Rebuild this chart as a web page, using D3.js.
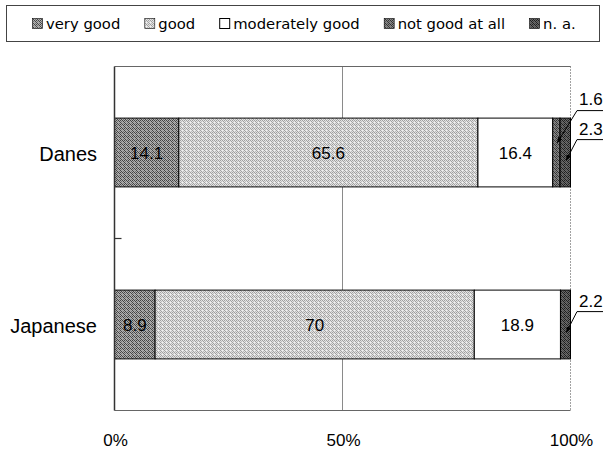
<!DOCTYPE html>
<html><head><meta charset="utf-8">
<script src="https://cdn.jsdelivr.net/npm/d3@7"></script>
<style>html,body{margin:0;padding:0;background:#fff;} svg{display:block;}</style>
</head><body><svg id="chart" width="603" height="450"></svg>
<script>
// Self-rated health, share of respondents (%)
const categories = ["Danes", "Japanese"];
const seriesNames = ["very good", "good", "moderately good", "not good at all", "n. a."];
const veryGood = [14.1, 8.9];
const good = [65.6, 70];
const moderatelyGood = [16.4, 18.9];
const notGoodAtAll = [1.6, 0];
const notAnswered = [2.3, 2.2];
const tickValues = [0, 50, 100];
const tickLabels = ["0%", "50%", "100%"];

const seriesValues = [veryGood, good, moderatelyGood, notGoodAtAll, notAnswered];
const rows = categories.map((c, i) => {
  const r = { category: c };
  seriesNames.forEach((s, k) => { r[s] = seriesValues[k][i]; });
  return r;
});

const plot = { left: 114.5, right: 570.5, top: 66.5, bottom: 410.5 };
const svg = d3.select("#chart");
const sansFont = "'Liberation Sans', Arial, sans-serif";
const legendFont = "'DejaVu Sans', sans-serif";

// Halftone-like fill patterns
const defs = svg.append("defs");
const patternSpecs = [
  { id: "p0", a: "#444444", b: "#b0b0b0", c: "#707070", d: "#9a9a9a" },
  { id: "p1", a: "#a0a0a0", b: "#e4e4e4", c: "#bcbcbc", d: "#f0f0f0" },
  null,
  { id: "p3", a: "#333333", b: "#888888", c: "#555555", d: "#777777" },
  { id: "p4", a: "#1e1e1e", b: "#6a6a6a", c: "#404040", d: "#585858" }
];
patternSpecs.forEach(p => {
  if (!p) return;
  const pat = defs.append("pattern").attr("id", p.id)
    .attr("patternUnits", "userSpaceOnUse").attr("width", 4).attr("height", 4);
  const cells = [
    [p.a, p.b, p.a, p.b],
    [p.b, p.c, p.b, p.a],
    [p.a, p.b, p.d, p.b],
    [p.b, p.a, p.b, p.c]
  ];
  cells.forEach((row, j) => row.forEach((col, i) => {
    pat.append("rect").attr("x", i).attr("y", j).attr("width", 1).attr("height", 1).attr("fill", col);
  }));
});
const fills = ["url(#p0)", "url(#p1)", "#ffffff", "url(#p3)", "url(#p4)"];

// Arrowhead for leader lines
defs.append("marker").attr("id", "arrow")
  .attr("viewBox", "0 0 10 10").attr("refX", 9).attr("refY", 5)
  .attr("markerWidth", 6).attr("markerHeight", 6).attr("orient", "auto")
  .append("path").attr("d", "M0,1L10,5L0,9Z").attr("fill", "#000");

const x = d3.scaleLinear().domain([0, 100]).range([plot.left, plot.right]);
const y = d3.scaleBand().domain(categories).range([plot.top, plot.bottom])
  .paddingInner(0.6).paddingOuter(0.3);

// Legend
const legend = svg.append("g");
legend.append("rect").attr("x", 6.5).attr("y", 5.5).attr("width", 593).attr("height", 36)
  .attr("fill", "#fff").attr("stroke", "#444").attr("stroke-width", 1);
let lx = 32;
seriesNames.forEach((s, k) => {
  const g = legend.append("g");
  g.append("rect").attr("x", lx + 0.5).attr("y", 18.5).attr("width", 10).attr("height", 10)
    .attr("fill", fills[k]).attr("stroke", "#000").attr("stroke-width", k === 2 ? 1 : 0.6);
  const t = g.append("text").attr("x", lx + 14).attr("y", 28.5)
    .attr("font-family", legendFont).attr("font-size", 14.8).attr("fill", "#000").text(s);
  lx += 14 + t.node().getComputedTextLength() + 24;
});

// Gridlines and frame
svg.append("line").attr("x1", x(50)).attr("x2", x(50)).attr("y1", plot.top).attr("y2", plot.bottom)
  .attr("stroke", "#8a8a8a").attr("stroke-width", 1);
svg.append("line").attr("x1", x(100)).attr("x2", x(100)).attr("y1", plot.top).attr("y2", plot.bottom)
  .attr("stroke", "#444").attr("stroke-width", 1).attr("stroke-dasharray", "1,2");
svg.append("line").attr("x1", plot.left).attr("x2", plot.right).attr("y1", plot.top).attr("y2", plot.top)
  .attr("stroke", "#666").attr("stroke-width", 1);
svg.append("line").attr("x1", plot.left).attr("x2", plot.right).attr("y1", plot.bottom).attr("y2", plot.bottom)
  .attr("stroke", "#666").attr("stroke-width", 1);

// Stacked bars
const stack = d3.stack().keys(seriesNames)(rows);
const layers = svg.append("g").selectAll("g").data(stack).join("g")
  .attr("fill", (d, k) => fills[k]);
layers.selectAll("rect").data(d => d.filter(p => p[1] - p[0] > 0)).join("rect")
  .attr("x", p => x(p[0]))
  .attr("width", p => x(p[1]) - x(p[0]))
  .attr("y", p => y(p.data.category))
  .attr("height", y.bandwidth())
  .attr("stroke", "#000").attr("stroke-width", 1);

// Category axis
svg.append("line").attr("x1", plot.left).attr("x2", plot.left).attr("y1", plot.top).attr("y2", plot.bottom)
  .attr("stroke", "#333").attr("stroke-width", 1.5);
const midTick = (y(categories[0]) + y.bandwidth() + y(categories[1])) / 2;
svg.append("line").attr("x1", plot.left).attr("x2", plot.left + 7).attr("y1", midTick).attr("y2", midTick)
  .attr("stroke", "#333").attr("stroke-width", 1.2);
svg.selectAll(".cat").data(categories).join("text")
  .attr("x", 97).attr("y", c => y(c) + y.bandwidth() / 2 + 8)
  .attr("text-anchor", "end").attr("font-family", sansFont).attr("font-size", 20)
  .attr("fill", "#000").text(c => c);

// Value axis labels
svg.selectAll(".tick-label").data(tickValues).join("text")
  .attr("x", v => x(v) + 1).attr("y", 446)
  .attr("text-anchor", "middle").attr("font-family", sansFont).attr("font-size", 17)
  .attr("fill", "#000").text((v, i) => tickLabels[i]);

// Value labels inside the wide segments
stack.slice(0, 3).forEach(layer => {
  layer.forEach(p => {
    const v = p[1] - p[0];
    svg.append("text")
      .attr("x", (x(p[0]) + x(p[1])) / 2)
      .attr("y", y(p.data.category) + y.bandwidth() / 2 + 6)
      .attr("text-anchor", "middle").attr("font-family", sansFont).attr("font-size", 17)
      .attr("fill", "#000").text(+v.toFixed(1));
  });
});

// Leader labels for the narrow segments
const leaderSpecs = [
  { k: 3, textDy: -13.5, lineDy: -7.5, arrowDy: 24.5 },
  { k: 4, textDy: 17, lineDy: 21.5, arrowDy: 42 }
];
leaderSpecs.forEach(spec => {
  stack[spec.k].forEach(p => {
    const v = p[1] - p[0];
    if (v <= 0) return;
    const top = y(p.data.category);
    const cx = (x(p[0]) + x(p[1])) / 2;
    const ly = top + spec.lineDy;
    svg.append("path")
      .attr("d", `M603,${ly}L577,${ly}L${cx + 1},${top + spec.arrowDy}`)
      .attr("fill", "none").attr("stroke", "#000").attr("stroke-width", 1)
      .attr("marker-end", "url(#arrow)");
    svg.append("text").attr("x", 579).attr("y", top + spec.textDy)
      .attr("font-family", sansFont).attr("font-size", 17).attr("fill", "#000")
      .text(v.toFixed(1));
  });
});
</script></body></html>
